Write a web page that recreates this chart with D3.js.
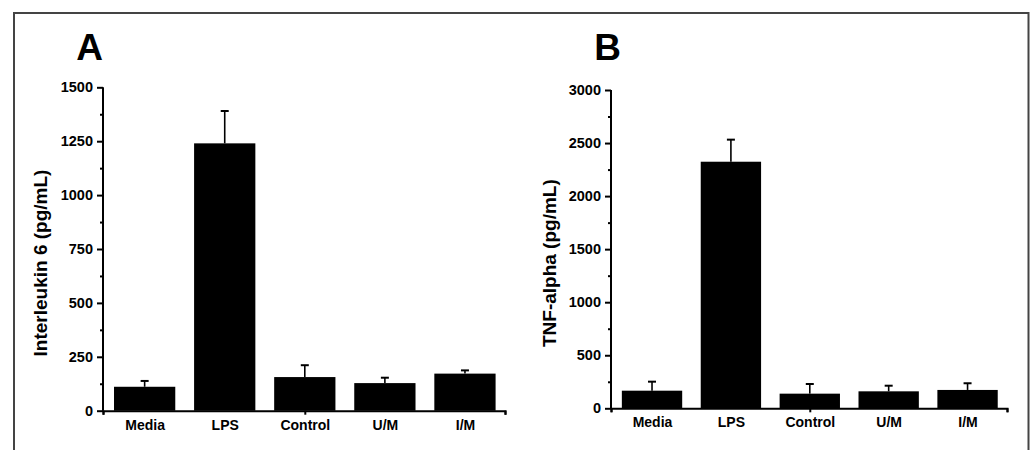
<!DOCTYPE html>
<html>
<head>
<meta charset="utf-8">
<script src="https://cdn.jsdelivr.net/npm/d3@7"></script>
<style>
  html, body { margin: 0; padding: 0; background: #fff; }
  svg { display: block; }
  text { font-family: "Liberation Sans", Arial, sans-serif; font-weight: bold; fill: #000; }
</style>
</head>
<body>
<svg id="chart" width="1031" height="450"></svg>
<script>
// ---- Data ----
const categories = ["Media", "LPS", "Control", "U/M", "I/M"];
const il6Values = [111, 1240, 156, 128, 172];
const il6Errors = [27, 150, 55, 25, 15];
const tnfValues = [166, 2324, 138, 160, 173];
const tnfErrors = [85, 208, 91, 53, 63];
const il6Ticks = [0, 250, 500, 750, 1000, 1250, 1500];
const tnfTicks = [0, 500, 1000, 1500, 2000, 2500, 3000];
const panelLetters = ["A", "B"];
const yTitles = ["Interleukin 6 (pg/mL)", "TNF-alpha (pg/mL)"];

const svg = d3.select("#chart");

// outer frame (open at bottom)
svg.append("path")
  .attr("d", "M14,452 L14,13 L1028.5,13 L1028.5,452")
  .attr("fill", "none").attr("stroke", "#444").attr("stroke-width", 2);

const panels = [
  { letter: panelLetters[0], title: yTitles[0], values: il6Values, errors: il6Errors,
    ticks: il6Ticks, max: 1500, x0: 103, x1: 505, y0: 410.7, y1: 87.3,
    letterX: 89.5, titleX: 47, labelDy: 19.5 },
  { letter: panelLetters[1], title: yTitles[1], values: tnfValues, errors: tnfErrors,
    ticks: tnfTicks, max: 3000, x0: 611, x1: 1007, y0: 408.3, y1: 90,
    letterX: 607.5, titleX: 556, labelDy: 18.5 }
];

const xDomain = [0.48, 5.5];
const barW = 0.765;

panels.forEach(p => {
  const g = svg.append("g");
  const x = d3.scaleLinear().domain(xDomain).range([p.x0, p.x1]);
  const y = d3.scaleLinear().domain([0, p.max]).range([p.y0, p.y1]);
  const step = p.ticks[1] - p.ticks[0];
  const minor = d3.range(step / 2, p.max, step);

  // bars
  g.selectAll("rect.bar").data(p.values).enter().append("rect")
    .attr("x", (d, i) => x(i + 1 - barW / 2))
    .attr("width", (d, i) => x(i + 1 + barW / 2) - x(i + 1 - barW / 2))
    .attr("y", d => y(d))
    .attr("height", d => y(0) - y(d))
    .attr("fill", "#000");

  // error bars (upper only)
  const capHalf = 4;
  p.values.forEach((v, i) => {
    const cx = x(i + 1);
    g.append("line").attr("x1", cx).attr("x2", cx)
      .attr("y1", y(v)).attr("y2", y(v + p.errors[i]))
      .attr("stroke", "#000").attr("stroke-width", 1.6);
    g.append("line").attr("x1", cx - capHalf).attr("x2", cx + capHalf)
      .attr("y1", y(v + p.errors[i])).attr("y2", y(v + p.errors[i]))
      .attr("stroke", "#000").attr("stroke-width", 2);
  });

  // y axis (major)
  const yAxis = g.append("g").attr("transform", `translate(${p.x0},0)`)
    .call(d3.axisLeft(y).tickValues(p.ticks).tickSize(6).tickPadding(4).tickFormat(d3.format("d")));
  yAxis.select(".domain").attr("stroke-width", 2).attr("d", `M0,${p.y1}V${p.y0}`);
  yAxis.selectAll(".tick line").attr("stroke-width", 2);
  yAxis.selectAll(".tick text").style("font-size", "14.5px").attr("font-family", null);
  // y minor ticks
  g.append("g").attr("transform", `translate(${p.x0},0)`)
    .call(d3.axisLeft(y).tickValues(minor).tickSize(3).tickFormat(""))
    .call(s => s.select(".domain").remove())
    .selectAll(".tick line").attr("stroke-width", 2);

  // x axis line with ticks at ends and middle
  const xAxis = g.append("g").attr("transform", `translate(0,${p.y0})`)
    .call(d3.axisBottom(x).tickValues([xDomain[0], 3, xDomain[1]]).tickSizeOuter(0).tickSize(4).tickFormat(""));
  xAxis.select(".domain").attr("stroke-width", 2);
  xAxis.selectAll(".tick line").attr("stroke-width", 2);

  // category labels
  const xLab = g.append("g").attr("transform", `translate(0,${p.y0})`)
    .call(d3.axisBottom(x).tickValues([1, 2, 3, 4, 5]).tickSize(0).tickFormat(d => categories[d - 1]));
  xLab.select(".domain").remove();
  xLab.selectAll(".tick text").attr("y", p.labelDy).attr("dy", 0)
    .style("font-size", "14px").attr("font-family", null);

  // y title
  g.append("text")
    .attr("transform", `translate(${p.titleX},${(p.y0 + p.y1) / 2 + 14}) rotate(-90)`)
    .attr("text-anchor", "middle")
    .style("font-size", "19px")
    .text(p.title);

  // panel letter
  g.append("text")
    .attr("x", p.letterX).attr("y", 60)
    .attr("text-anchor", "middle")
    .style("font-size", "37px")
    .text(p.letter);
});
</script>
</body>
</html>
